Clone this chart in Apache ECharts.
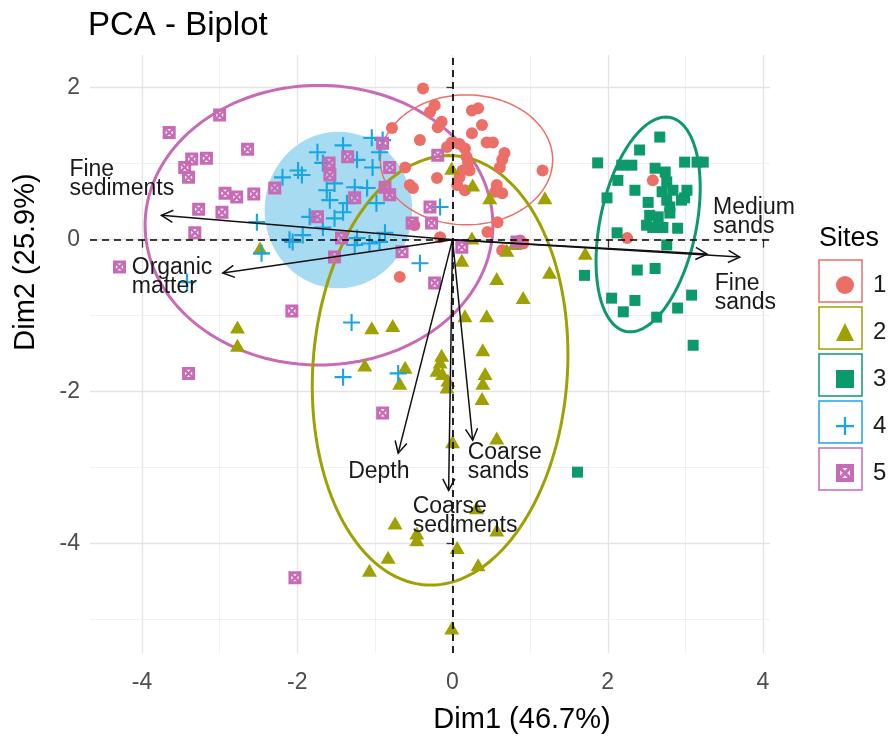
<!DOCTYPE html>
<html>
<head>
<meta charset="utf-8">
<script src="https://cdn.jsdelivr.net/npm/echarts@6/dist/echarts.min.js"></script>
<style>
  html, body { margin: 0; padding: 0; background: #ffffff; }
  #chart { width: 888px; height: 736px; }
</style>
</head>
<body>
<div id="chart"></div>
<script>
// ---- Individual scores on Dim1 / Dim2, one array per site ----
const site1 = [[-0.38,1.99],[-0.23,1.77],[-0.29,1.68],[0.25,1.70],[0.33,1.73],[-0.14,1.55],[-0.19,1.48],[0.38,1.51],[-0.78,1.47],[0.25,1.40],[-0.42,1.31],[-0.01,1.28],[0.09,1.26],[-0.07,1.22],[0.16,1.20],[0.44,1.28],[0.52,1.28],[0.67,1.14],[0.64,1.05],[0.18,1.09],[0.20,1.01],[0.13,0.91],[0.22,0.91],[0.61,0.95],[-0.61,0.95],[1.16,0.91],[0.09,0.82],[-0.20,0.81],[0.06,0.72],[-0.55,0.72],[-0.51,0.68],[0.57,0.72],[0.16,0.65],[0.55,0.63],[0.64,0.61],[0.58,0.23],[-0.49,0.19],[0.45,0.10],[-0.16,0.03],[0.87,-0.01],[0.64,-0.14],[-0.68,-0.49],[0.91,-0.05],[2.58,0.78],[2.25,0.02]];
const site2 = [[-0.01,0.94],[0.26,0.72],[0.48,0.55],[1.19,0.55],[0.25,0.02],[0.80,-0.05],[0.12,-0.27],[0.70,-0.14],[1.25,-0.43],[1.71,-0.18],[0.57,-0.51],[0.91,-0.76],[0.16,-1.00],[0.44,-1.00],[-1.04,-1.16],[-0.77,-1.13],[0.39,-1.45],[-0.14,-1.52],[-1.13,-1.65],[-0.61,-1.68],[-0.20,-1.72],[-0.13,-1.76],[0.42,-1.76],[-0.68,-1.89],[-0.07,-1.94],[0.39,-1.89],[0.38,-2.09],[-2.48,-0.11],[-2.77,-1.15],[-2.77,-1.39],[0.00,-2.66],[0.57,-2.61],[0.31,-3.53],[-0.74,-3.73],[-0.46,-3.86],[-0.46,-3.95],[0.57,-3.82],[0.06,-4.05],[-0.83,-4.18],[-1.07,-4.35],[0.33,-4.28],[-0.01,-5.11],[-0.16,-1.61],[-0.06,-1.85]];
const site3 = [[2.67,1.35],[2.41,1.18],[1.87,1.01],[2.18,0.98],[2.31,0.98],[2.61,0.94],[2.74,0.89],[2.99,1.02],[3.15,1.02],[3.23,1.02],[2.13,0.78],[2.76,0.76],[2.35,0.65],[2.70,0.63],[2.84,0.65],[3.02,0.65],[1.99,0.55],[2.52,0.49],[2.76,0.52],[2.95,0.52],[2.99,0.55],[2.80,0.43],[2.54,0.32],[2.65,0.30],[2.80,0.35],[2.50,0.19],[2.58,0.16],[2.71,0.16],[2.90,0.15],[2.12,0.09],[2.76,-0.07],[2.38,-0.40],[2.61,-0.38],[1.70,-0.47],[2.05,-0.77],[2.35,-0.80],[3.08,-0.73],[2.20,-0.95],[2.90,-0.90],[2.63,-1.02],[3.10,-1.39],[1.61,-3.06]];
const site4 = [[-1.04,1.34],[-0.94,1.15],[-1.74,1.15],[-1.41,1.24],[-2.19,0.82],[-1.99,0.91],[-1.94,0.85],[-1.67,1.01],[-1.62,0.65],[-1.52,0.74],[-1.26,0.69],[-1.10,0.68],[-0.98,0.48],[-1.36,0.48],[-1.58,0.52],[-1.41,0.36],[-1.52,0.28],[-1.67,0.16],[-1.84,0.30],[-2.52,0.23],[-2.06,-0.03],[-1.93,0.06],[-1.23,0.02],[-1.07,-0.05],[-0.94,-0.03],[-1.23,1.05],[-1.03,0.95],[-0.90,1.31],[-0.16,0.43],[-0.87,0.09],[-2.46,-0.18],[-3.42,-0.56],[-1.30,-1.09],[-1.41,-1.81],[-0.42,-0.31],[-0.70,-1.76],[-2.10,0.00],[-1.26,-0.07]];
const site5 = [[-3.00,1.64],[-3.65,1.41],[-2.64,1.19],[-3.36,1.06],[-3.45,0.95],[-3.17,1.07],[-3.40,0.82],[-2.93,0.61],[-2.78,0.56],[-2.56,0.60],[-2.29,0.68],[-2.97,0.36],[-3.27,0.40],[-3.32,0.09],[-1.59,1.01],[-1.58,0.85],[-1.35,1.09],[-0.90,1.27],[-0.87,0.69],[-1.26,0.55],[-1.74,0.30],[-1.43,0.02],[-1.52,-0.23],[-0.19,1.11],[-0.81,0.95],[-0.81,0.59],[-0.29,0.43],[-0.27,0.22],[-0.52,0.22],[-0.65,-0.16],[0.12,-0.10],[0.83,-0.03],[-4.29,-0.36],[-2.07,-0.94],[-3.40,-1.76],[-0.90,-2.28],[-0.23,-0.57],[-2.03,-4.45]];

const siteNames = ['1', '2', '3', '4', '5'];

// ---- Concentration ellipse per site (centre, semi-axes, tilt in degrees) ----
const ellipseCx = [0.18, -0.16, 2.52, -1.47, -1.72];
const ellipseCy = [1.05, -1.72, 0.20, 0.39, 0.19];
const ellipseSemiMajor = [0.855, 2.83, 1.436, 1.03, 1.84];   // vertical-ish half axis
const ellipseSemiMinor = [1.11, 1.64, 0.62, 0.95, 2.24];     // horizontal-ish half axis
const ellipseTilt = [0, 3.7, 11.4, 0, 0];

// ---- Variable loadings (arrow tips) ----
const varNames = ['Fine sediments', 'Organic matter', 'Medium sands', 'Fine sands', 'Depth', 'Coarse sediments', 'Coarse sands'];
const varLabels = ['Fine\nsediments', 'Organic\nmatter', 'Medium\nsands', 'Fine\nsands', 'Depth', 'Coarse\nsediments', 'Coarse\nsands'];
const varX = [-3.75, -2.96, 3.28, 3.70, -0.70, -0.05, 0.26];
const varY = [0.32, -0.44, -0.19, -0.23, -2.81, -3.30, -2.64];

// ---- Axis ticks and grid ----
const xTicks = [-4, -2, 0, 2, 4];
const yTicks = [-4, -2, 0, 2];
const xMinorGrid = [-3, -1, 1, 3];
const yMinorGrid = [-5, -3, -1, 1];
const xRange = [-4.67, 4.09];
const yRange = [-5.44, 2.43];

// ---- Styling ----
const FONT = '"Liberation Sans", Arial, Helvetica, sans-serif';
const siteColors = ['#EC6F67', '#9FA103', '#0D9A6B', '#18A6E3', '#C86AB5'];
const crossPath = 'path://M7,0h2v7h7v2h-7v7h-2v-7h-7v-2h7z';
// filled square crossed by an X, with four small windows between the arms
const boxXPath = 'path://M0,0H20V20H0Z M7,4.5L10,7.5L13,4.5Z M15.5,7L12.5,10L15.5,13Z M13,15.5L10,12.5L7,15.5Z M4.5,13L7.5,10L4.5,7Z';
const siteSymbols = ['circle', 'triangle', 'rect', crossPath, boxXPath];
const siteSizes = [12, [15, 13], 11, 17, 13];
const ellipseStyles = [
  { fill: null, stroke: siteColors[0], lineWidth: 1.5, z2: 2 },
  { fill: null, stroke: siteColors[1], lineWidth: 3, z2: 2 },
  { fill: null, stroke: siteColors[2], lineWidth: 3, z2: 2 },
  { fill: '#A6DBF2', stroke: null, lineWidth: 0, z2: 0 },
  { fill: null, stroke: siteColors[4], lineWidth: 3, z2: 1 }
];
// label placement relative to arrow tip, pixels: [dx, dy to top of text block]
const labelOffset = {
  'Fine sediments': [-92, -55],
  'Organic matter': [-91, -15],
  'Medium sands': [6, -56],
  'Fine sands': [-25, 17],
  'Depth': [-50, 9],
  'Coarse sediments': [-36, 7],
  'Coarse sands': [-5, 3]
};

function ellipseItem(params, api) {
  const i = params.dataIndex;
  const t = ellipseTilt[i] * Math.PI / 180;
  const a = ellipseSemiMajor[i], b = ellipseSemiMinor[i];
  const pts = [];
  for (let k = 0; k < 160; k++) {
    const s = (k / 160) * 2 * Math.PI;
    const x = ellipseCx[i] + a * Math.sin(s) * Math.sin(t) + b * Math.cos(s) * Math.cos(t);
    const y = ellipseCy[i] + a * Math.sin(s) * Math.cos(t) - b * Math.cos(s) * Math.sin(t);
    pts.push(api.coord([x, y]));
  }
  const st = ellipseStyles[i];
  return {
    type: 'polygon',
    z2: st.z2,
    shape: { points: pts },
    style: { fill: st.fill || 'none', stroke: st.stroke || 'none', lineWidth: st.lineWidth }
  };
}

function arrowItem(params, api) {
  const i = params.dataIndex;
  const o = api.coord([0, 0]);
  const e = api.coord([varX[i], varY[i]]);
  const ang = Math.atan2(e[1] - o[1], e[0] - o[0]);
  const hl = 13, ha = Math.PI / 6.5;
  const h1 = [e[0] - hl * Math.cos(ang - ha), e[1] - hl * Math.sin(ang - ha)];
  const h2 = [e[0] - hl * Math.cos(ang + ha), e[1] - hl * Math.sin(ang + ha)];
  const off = labelOffset[varNames[i]];
  return {
    type: 'group',
    children: [
      { type: 'line', shape: { x1: o[0], y1: o[1], x2: e[0], y2: e[1] }, style: { stroke: '#111', lineWidth: 1.5 } },
      { type: 'polyline', shape: { points: [h1, e, h2] }, style: { stroke: '#111', lineWidth: 1.5, fill: 'none' } },
      { type: 'text', x: e[0] + off[0], y: e[1] + off[1],
        style: { text: varLabels[i], fontSize: 23, lineHeight: 19, fontFamily: FONT, fill: '#1a1a1a', align: 'left', verticalAlign: 'top' } }
    ]
  };
}

const gridLines = []
  .concat(xTicks.map(v => ({ xAxis: v, lineStyle: { color: '#e4e4e4', width: 1.3, type: 'solid' } })))
  .concat(xMinorGrid.map(v => ({ xAxis: v, lineStyle: { color: '#ececec', width: 0.8, type: 'solid' } })))
  .concat(yTicks.map(v => ({ yAxis: v, lineStyle: { color: '#e4e4e4', width: 1.3, type: 'solid' } })))
  .concat(yMinorGrid.map(v => ({ yAxis: v, lineStyle: { color: '#ececec', width: 0.8, type: 'solid' } })));

const siteData = [site1, site2, site3, site4, site5];
const scatterSeries = siteNames.map((name, i) => ({
  name: name,
  type: 'scatter',
  data: siteData[i],
  symbol: siteSymbols[i],
  symbolSize: siteSizes[i],
  itemStyle: { color: siteColors[i], opacity: 1 },
  z: 3,
  silent: true
}));

const chart = echarts.init(document.getElementById('chart'), null, { renderer: 'canvas' });
chart.setOption({
  animation: false,
  backgroundColor: '#ffffff',
  textStyle: { fontFamily: FONT },
  title: {
    text: 'PCA - Biplot', left: 88, top: 9, padding: 0,
    textStyle: { fontSize: 33, fontWeight: 'normal', color: '#000', fontFamily: FONT }
  },
  grid: { left: 90, right: 118, top: 55, bottom: 83, containLabel: false },
  xAxis: {
    type: 'value', min: xRange[0], max: xRange[1],
    axisLine: { show: false },
    splitLine: { show: false },
    axisTick: { show: true, length: 8, customValues: xTicks, lineStyle: { color: '#333', width: 1.3 } },
    axisLabel: { customValues: xTicks, fontSize: 23, color: '#4d4d4d', margin: 18, fontFamily: FONT }
  },
  yAxis: {
    type: 'value', min: yRange[0], max: yRange[1],
    axisLine: { show: false },
    splitLine: { show: false },
    axisTick: { show: true, length: 6, customValues: yTicks, lineStyle: { color: '#333', width: 1.3 } },
    axisLabel: { customValues: yTicks, fontSize: 23, color: '#4d4d4d', margin: 10, fontFamily: FONT }
  },
  legend: {
    orient: 'vertical', left: 831, top: 268,
    itemWidth: 18, itemHeight: 18, itemGap: 23,
    selectedMode: false,
    data: siteNames,
    textStyle: { fontSize: 24, lineHeight: 24, color: '#1a1a1a', padding: [0, 0, 0, 14], fontFamily: FONT }
  },
  graphic: [
    { type: 'text', left: 819, top: 225, style: { text: 'Sites', fontSize: 27, fill: '#000', fontFamily: FONT } },
    { type: 'text', x: 522, y: 720, style: { text: 'Dim1 (46.7%)', fontSize: 29, fill: '#000', fontFamily: FONT, align: 'center', verticalAlign: 'middle' } },
    { type: 'text', x: 26, y: 262, rotation: Math.PI / 2, style: { text: 'Dim2 (25.9%)', fontSize: 29, fill: '#000', fontFamily: FONT, align: 'center', verticalAlign: 'middle' } }
  ].concat(siteColors.map((c, i) => ({
    type: 'rect', x: 819, y: 260 + i * 47, z: 0,
    shape: { width: 43, height: 42 },
    style: { fill: 'none', stroke: c, lineWidth: 1.5 }
  }))),
  series: [
    {
      name: 'grid', type: 'scatter', data: [], z: 0, silent: true,
      markLine: { silent: true, symbol: ['none', 'none'], label: { show: false }, data: gridLines, z: 0, animation: false }
    },
    {
      name: 'ellipses', type: 'custom', coordinateSystem: 'cartesian2d', z: 1, silent: true,
      data: ellipseCx.map((x, i) => [x, ellipseCy[i]]),
      renderItem: ellipseItem
    }
  ].concat(scatterSeries).concat([
    {
      name: 'axes0', type: 'scatter', data: [], z: 4, silent: true,
      markLine: {
        silent: true, symbol: ['none', 'none'], label: { show: false }, z: 4,
        lineStyle: { color: '#000', width: 1.7, type: [7, 5] },
        data: [{ xAxis: 0 }, { yAxis: 0 }]
      }
    },
    {
      name: 'variables', type: 'custom', coordinateSystem: 'cartesian2d', z: 5, silent: true, clip: false,
      data: varX.map((x, i) => [x, varY[i]]),
      renderItem: arrowItem
    }
  ])
});
</script>
</body>
</html>
